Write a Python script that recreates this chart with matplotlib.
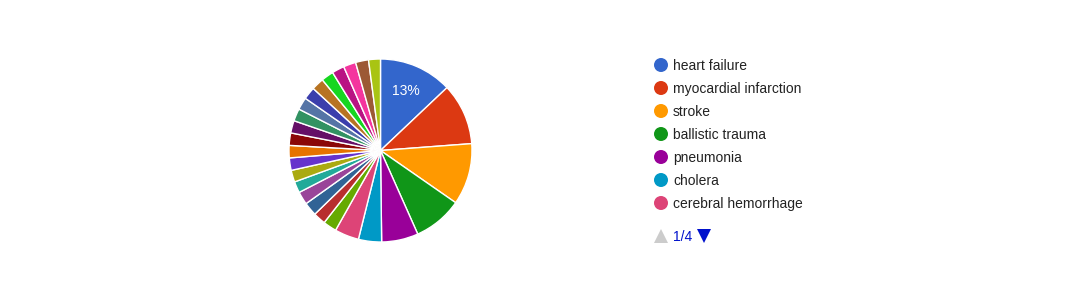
import numpy as np
import matplotlib.pyplot as plt
from matplotlib.patches import Circle, Polygon

plt.rcParams['font.family'] = ['Liberation Sans', 'DejaVu Sans']

# data (percent of total), clockwise from 12 o'clock
causes = ['heart failure', 'myocardial infarction', 'stroke', 'ballistic trauma',
          'pneumonia', 'cholera', 'cerebral hemorrhage',
          'sepsis', 'tuberculosis', 'malaria', 'diabetes', 'cirrhosis',
          'lung cancer', 'influenza', 'drowning', 'burns', 'poisoning',
          'kidney failure', 'dysentery', 'typhoid', 'measles', 'fall injury',
          'asthma', 'meningitis', 'tetanus', 'starvation']
share = [13.0, 10.9, 10.9, 8.7, 6.5, 4.1, 4.3,
         2.4, 2.2, 2.4, 2.3, 2.0, 2.1, 2.2, 2.2, 2.2, 2.2,
         2.2, 2.2, 2.2, 2.2, 2.2, 2.2, 2.2, 2.3, 2.1]
colors = ['#3366cc', '#dc3912', '#ff9900', '#109618', '#990099', '#0099c6',
          '#dd4477', '#66aa00', '#b82e2e', '#316395', '#994499', '#22aa99',
          '#aaaa11', '#6633cc', '#e67300', '#8b0707', '#651067', '#329262',
          '#5574a6', '#3b3eac', '#b77322', '#16d620', '#b91383', '#f4359e',
          '#9c5935', '#a9c413']
page_size = 7
n_pages = int(np.ceil(len(causes) / page_size))

W, H = 1070, 300
fig = plt.figure(figsize=(W / 100, H / 100), dpi=100)

# pie
cx, cy, r = 380.5, 150.5, 91.5
ax = fig.add_axes([(cx - r) / W, (H - cy - r) / H, 2 * r / W, 2 * r / H])
wedges, _ = ax.pie(share, colors=colors, startangle=90, counterclock=False,
                   wedgeprops=dict(edgecolor='white', linewidth=1))
ax.set_xlim(-1, 1)
ax.set_ylim(-1, 1)

# percentage label only on the big first slice
tot = sum(share)
mid = np.deg2rad(90 - share[0] / tot * 360 / 2)
ax.text(0.71 * np.cos(mid), 0.71 * np.sin(mid), f'{share[0] / tot * 100:.0f}%',
        color='white', fontsize=10, ha='center', va='center')

# legend (page 1 of n)
lg = fig.add_axes([0, 0, 1, 1])
lg.set_xlim(0, W)
lg.set_ylim(H, 0)
lg.axis('off')
for i in range(page_size):
    y = 65 + i * 23
    lg.add_patch(Circle((661, y), 7, color=colors[i], lw=0))
    lg.text(673, y + 1, causes[i], fontsize=10, color='#222222', va='center', ha='left')

# pager
py = 236
lg.add_patch(Polygon([[654, py + 7], [668, py + 7], [661, py - 7]], closed=True,
                     color='#cccccc', lw=0))
lg.text(673, py + 1, f'1/{n_pages}', fontsize=10, color='#0011cc', va='center', ha='left')
lg.add_patch(Polygon([[697, py - 7], [711, py - 7], [704, py + 7]], closed=True,
                     color='#0011cc', lw=0))

fig.savefig('out.png', dpi=100, facecolor='white')
